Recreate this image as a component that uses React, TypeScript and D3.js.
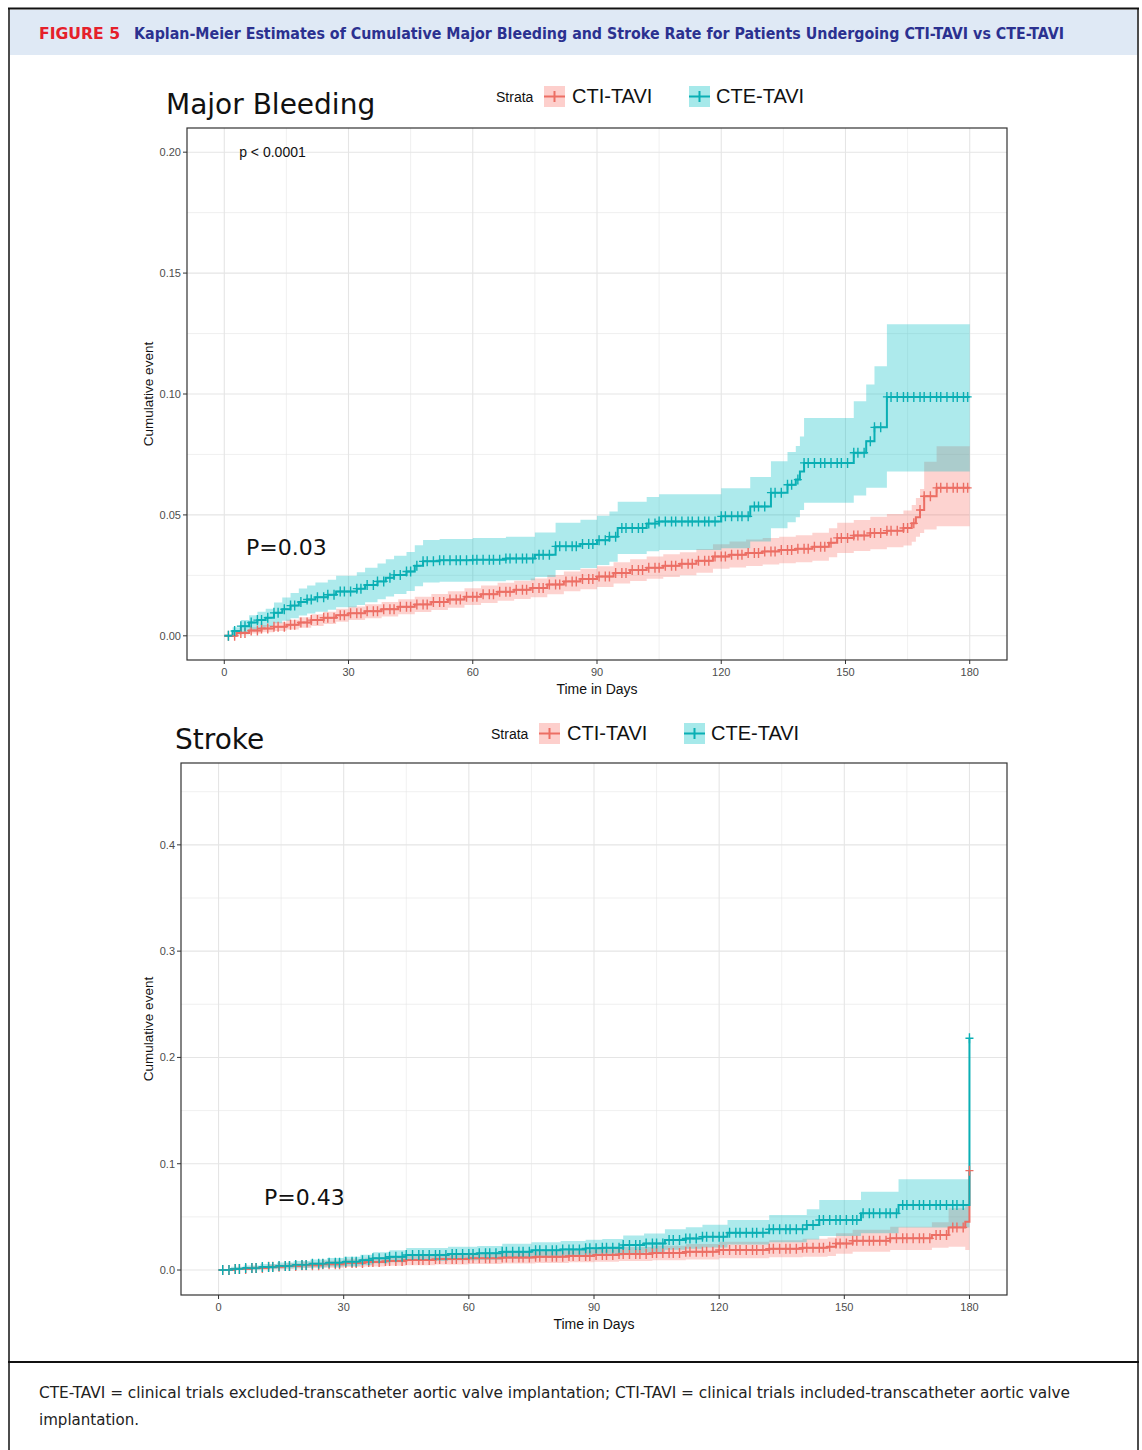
import React from "react";
import * as d3 from "d3";

const RED = "#F8766D";
const TEAL = "#00BFC4";
const RED_LINE = "#ec6e64";
const TEAL_LINE = "#0aafb4";
const AXIS_FONT = "Liberation Sans, Arial, sans-serif";

const strata = ["CTI-TAVI", "CTE-TAVI"];
const xTicks = [0, 30, 60, 90, 120, 150, 180];
const xMinor = [15, 45, 75, 105, 135, 165];

// ---- Major bleeding ----
const bleedTicks = [0, 0.05, 0.1, 0.15, 0.2];
const bleedMinor = [0.025, 0.075, 0.125, 0.175];

const bleedCtiDays = [0, 3, 6, 9, 12, 15, 18, 21, 24, 27, 30, 34, 38, 42, 46, 50, 54, 58, 62, 66, 70, 74, 78, 82, 86, 90, 94, 98, 102, 106, 110, 114, 118, 122, 126, 130, 134, 138, 142, 146, 148, 152, 156, 160, 164, 166, 167, 168, 169, 172];
const bleedCtiEst = [0, 0.0012, 0.0022, 0.003, 0.0038, 0.0046, 0.0055, 0.0065, 0.0075, 0.0085, 0.0093, 0.0102, 0.011, 0.012, 0.013, 0.014, 0.015, 0.0162, 0.0172, 0.0182, 0.019, 0.0198, 0.0212, 0.0225, 0.0235, 0.0245, 0.026, 0.0272, 0.0282, 0.029, 0.0298, 0.031, 0.0328, 0.0335, 0.0342, 0.0349, 0.0355, 0.036, 0.0368, 0.0385, 0.0405, 0.0415, 0.0425, 0.0435, 0.0446, 0.0465, 0.049, 0.052, 0.0577, 0.0612];
const bleedCtiLo = [0, 0.0005, 0.001, 0.0015, 0.002, 0.0026, 0.0033, 0.0041, 0.0049, 0.0058, 0.0065, 0.0073, 0.008, 0.0089, 0.0098, 0.0107, 0.0116, 0.0127, 0.0136, 0.0145, 0.0152, 0.0159, 0.0172, 0.0184, 0.0193, 0.0202, 0.0216, 0.0227, 0.0236, 0.0243, 0.025, 0.0261, 0.0277, 0.0283, 0.0289, 0.0295, 0.03, 0.0304, 0.031, 0.0325, 0.0342, 0.0351, 0.0358, 0.0366, 0.0374, 0.0389, 0.041, 0.0425, 0.044, 0.0453];
const bleedCtiHi = [0, 0.002, 0.0035, 0.0045, 0.0056, 0.0066, 0.0077, 0.0089, 0.01, 0.0112, 0.0121, 0.0131, 0.014, 0.0151, 0.0162, 0.0173, 0.0184, 0.0197, 0.0208, 0.0219, 0.0228, 0.0237, 0.0252, 0.0266, 0.0277, 0.0288, 0.0304, 0.0317, 0.0328, 0.0337, 0.0346, 0.0359, 0.0379, 0.039, 0.0398, 0.0405, 0.041, 0.0416, 0.0426, 0.0445, 0.0468, 0.0479, 0.0492, 0.0504, 0.0518, 0.0541, 0.057, 0.0607, 0.072, 0.0784];

const bleedCteDays = [0, 2, 4, 6, 8, 10, 12, 14, 16, 18, 20, 22, 25, 27, 32, 34, 37, 39, 41, 44, 46, 48, 52, 60, 68, 75, 80, 86, 90, 93, 95, 102, 105, 120, 127, 132, 136, 138, 139, 140, 152, 155, 157, 160];
const bleedCteEst = [0, 0.002, 0.004, 0.0055, 0.0065, 0.0075, 0.0095, 0.011, 0.0125, 0.014, 0.015, 0.016, 0.017, 0.0183, 0.0195, 0.021, 0.0225, 0.024, 0.0252, 0.0266, 0.029, 0.0308, 0.0312, 0.0315, 0.032, 0.0335, 0.037, 0.038, 0.0395, 0.041, 0.0446, 0.0464, 0.0473, 0.0494, 0.0535, 0.0592, 0.0625, 0.0646, 0.068, 0.0715, 0.0757, 0.0805, 0.0862, 0.0988];
const bleedCteLo = [0, 0.0005, 0.0015, 0.0025, 0.003, 0.0038, 0.0052, 0.0062, 0.0073, 0.0084, 0.0092, 0.01, 0.0108, 0.0118, 0.0127, 0.0139, 0.0151, 0.0163, 0.0173, 0.0185, 0.0205, 0.022, 0.0224, 0.0226, 0.023, 0.0243, 0.0272, 0.028, 0.0293, 0.0306, 0.0338, 0.035, 0.0355, 0.0362, 0.039, 0.0445, 0.047, 0.049, 0.052, 0.055, 0.058, 0.0612, 0.0612, 0.068];
const bleedCteHi = [0, 0.0035, 0.0065, 0.0085, 0.01, 0.0112, 0.0138, 0.0158, 0.0177, 0.0196, 0.0208, 0.022, 0.0232, 0.0248, 0.0263, 0.0281, 0.0299, 0.0317, 0.0331, 0.0347, 0.0375, 0.0396, 0.04, 0.0404, 0.041, 0.0427, 0.0468, 0.048, 0.0497, 0.0514, 0.0554, 0.0574, 0.0585, 0.061, 0.0657, 0.0722, 0.076, 0.0785, 0.0824, 0.0901, 0.097, 0.1039, 0.1115, 0.1288];

const bleedCensor = [1, 2.5, 4, 5, 6.5, 8, 9, 10.5, 12, 13, 14.5, 16, 17, 18.5, 20, 21, 22.5, 24, 25, 26.5, 28, 29, 30.5, 32, 33, 34.5, 36, 37, 38.5, 40, 41, 42.5, 44, 45, 46.5, 48, 49, 50.5, 52, 53, 54.5, 56, 57, 58.5, 60, 61, 62.5, 64, 65, 66.5, 68, 69, 70.5, 72, 73, 74.5, 76, 77, 78.5, 80, 81, 82.5, 84, 85, 86.5, 88, 89, 90.5, 92, 93, 94.5, 96, 97, 98.5, 100, 101, 102.5, 104, 105, 106.5, 108, 109, 110.5, 112, 113, 114.5, 116, 117, 118.5, 120, 121, 122.5, 124, 125, 126.5, 128, 129, 130.5, 132, 133, 134.5, 136, 137, 138.5, 140, 141, 142.5, 144, 145, 146.5, 148, 149, 150.5, 152, 153, 154.5, 156, 157, 158.5, 160, 161, 162.5, 164, 165, 166.5, 168, 169, 170.5, 172, 173, 174.5, 176, 177, 178.5, 179.5];

// ---- Stroke ----
const strokeTicks = [0, 0.1, 0.2, 0.3, 0.4];
const strokeMinor = [0.05, 0.15, 0.25, 0.35, 0.45];

const strokeCtiDays = [0, 4, 8, 12, 16, 20, 25, 30, 35, 40, 45, 52, 60, 68, 76, 84, 90, 96, 104, 112, 120, 132, 140, 146, 148, 152, 161, 171, 175, 179, 180];
const strokeCtiEst = [0, 0.001, 0.002, 0.003, 0.0038, 0.0045, 0.0055, 0.0065, 0.0075, 0.0085, 0.0094, 0.0103, 0.011, 0.0118, 0.0125, 0.0133, 0.0141, 0.015, 0.016, 0.0172, 0.0188, 0.02, 0.021, 0.022, 0.025, 0.0275, 0.0298, 0.0329, 0.0401, 0.0455, 0.0935];
const strokeCtiLo = [0, 0, 0.0003, 0.0008, 0.0012, 0.0016, 0.0022, 0.0028, 0.0034, 0.004, 0.0046, 0.0052, 0.0057, 0.0062, 0.0067, 0.0072, 0.0078, 0.0084, 0.0091, 0.0099, 0.0111, 0.0119, 0.0126, 0.0133, 0.0154, 0.0172, 0.0188, 0.0209, 0.022, 0.0188, 0.0188];
const strokeCtiHi = [0, 0.0025, 0.0038, 0.0052, 0.0064, 0.0074, 0.0088, 0.0102, 0.0116, 0.013, 0.0142, 0.0154, 0.0163, 0.0174, 0.0183, 0.0194, 0.0204, 0.0216, 0.0229, 0.0245, 0.0265, 0.0281, 0.0294, 0.0307, 0.0346, 0.0378, 0.0408, 0.0449, 0.058, 0.06, 0.06];

const strokeCteDays = [0, 3, 6, 10, 14, 18, 22, 26, 30, 34, 37, 41, 45, 55, 62, 68, 75, 82, 88, 92, 97, 102, 107, 112, 116, 122, 132, 141, 144, 154, 163, 180];
const strokeCteEst = [0, 0.001, 0.0018, 0.0028, 0.0038, 0.0048, 0.0058, 0.0068, 0.0078, 0.0092, 0.011, 0.0125, 0.0141, 0.015, 0.0157, 0.0172, 0.0185, 0.0194, 0.0204, 0.021, 0.0235, 0.025, 0.0282, 0.0296, 0.0314, 0.0351, 0.0383, 0.0424, 0.047, 0.0533, 0.0612, 0.218];
const strokeCteLo = [0, 0, 0.0003, 0.0009, 0.0015, 0.0021, 0.0027, 0.0033, 0.004, 0.005, 0.0063, 0.0074, 0.0086, 0.0092, 0.0097, 0.0108, 0.0118, 0.0125, 0.0133, 0.0137, 0.0155, 0.0166, 0.019, 0.02, 0.0213, 0.024, 0.0262, 0.0288, 0.032, 0.0345, 0.04, 0.04];
const strokeCteHi = [0, 0.003, 0.0043, 0.0057, 0.0071, 0.0085, 0.0099, 0.0113, 0.0126, 0.0144, 0.0167, 0.0186, 0.0206, 0.0218, 0.0227, 0.0246, 0.0262, 0.0273, 0.0285, 0.0293, 0.0325, 0.0344, 0.0384, 0.0402, 0.0425, 0.047, 0.0518, 0.0571, 0.0659, 0.0737, 0.0854, 0.0854];

const strokeCensor = [1, 2.5, 4, 5, 6.5, 8, 9, 10.5, 12, 13, 14.5, 16, 17, 18.5, 20, 21, 22.5, 24, 25, 26.5, 28, 29, 30.5, 32, 33, 34.5, 36, 37, 38.5, 40, 41, 42.5, 44, 45, 46.5, 48, 49, 50.5, 52, 53, 54.5, 56, 57, 58.5, 60, 61, 62.5, 64, 65, 66.5, 68, 69, 70.5, 72, 73, 74.5, 76, 77, 78.5, 80, 81, 82.5, 84, 85, 86.5, 88, 89, 90.5, 92, 93, 94.5, 96, 97, 98.5, 100, 101, 102.5, 104, 105, 106.5, 108, 109, 110.5, 112, 113, 114.5, 116, 117, 118.5, 120, 121, 122.5, 124, 125, 126.5, 128, 129, 130.5, 132, 133, 134.5, 136, 137, 138.5, 140, 141, 142.5, 144, 145, 146.5, 148, 149, 150.5, 152, 153, 154.5, 156, 157, 158.5, 160, 161, 162.5, 164, 165, 166.5, 168, 169, 170.5, 172, 173, 174.5, 176, 177, 178.5, 180];

type Series = { name: string; fill: string; stroke: string; days: number[]; est: number[]; lo: number[]; hi: number[] };

const stepAt = (days: number[], vals: number[], t: number) => {
  const i = d3.bisectRight(days, t) - 1;
  return vals[Math.max(0, i)];
};

function LegendKey({ x, y, fill, stroke }: { x: number; y: number; fill: string; stroke: string }) {
  return (
    <g>
      <rect x={x} y={y} width={21} height={21} fill={fill} fillOpacity={0.35} />
      <line x1={x} x2={x + 21} y1={y + 10.5} y2={y + 10.5} stroke={stroke} strokeWidth={2} />
      <line x1={x + 10.5} x2={x + 10.5} y1={y + 5} y2={y + 16} stroke={stroke} strokeWidth={2} />
    </g>
  );
}

function KMPanel(props: {
  box: { x0: number; x1: number; y0: number; y1: number };
  yDomain: [number, number];
  yTicks: number[];
  yMinor: number[];
  yFmt: (v: number) => string;
  series: Series[];
  censor: number[];
  title: string;
  titleX: number;
  titleY: number;
  legendX: number;
  legendY: number;
  pLabel: string;
  pX: number;
  pY: number;
  note?: string;
}) {
  const { box, series } = props;
  const x = d3.scaleLinear().domain([-9, 189]).range([box.x0, box.x1]);
  const y = d3.scaleLinear().domain(props.yDomain).range([box.y1, box.y0]);
  const line = d3
    .line<[number, number]>()
    .x((d) => x(d[0]))
    .y((d) => y(d[1]))
    .curve(d3.curveStepAfter);
  const area = d3
    .area<[number, number, number]>()
    .x((d) => x(d[0]))
    .y0((d) => y(d[1]))
    .y1((d) => y(d[2]))
    .curve(d3.curveStepAfter);

  const gridCol = "#e5e5e5";
  const midX = (box.x0 + box.x1) / 2;
  const midY = (box.y0 + box.y1) / 2;
  const lx = props.legendX;
  const ly = props.legendY;

  return (
    <g>
      {/* grid */}
      {xMinor.map((t) => (
        <line key={"xm" + t} x1={x(t)} x2={x(t)} y1={box.y0} y2={box.y1} stroke={gridCol} strokeWidth={0.6} />
      ))}
      {props.yMinor.map((t) => (
        <line key={"ym" + t} x1={box.x0} x2={box.x1} y1={y(t)} y2={y(t)} stroke={gridCol} strokeWidth={0.6} />
      ))}
      {xTicks.map((t) => (
        <line key={"xg" + t} x1={x(t)} x2={x(t)} y1={box.y0} y2={box.y1} stroke={gridCol} strokeWidth={1.1} />
      ))}
      {props.yTicks.map((t) => (
        <line key={"yg" + t} x1={box.x0} x2={box.x1} y1={y(t)} y2={y(t)} stroke={gridCol} strokeWidth={1.1} />
      ))}

      {/* confidence bands */}
      {series.map((s) => {
        const pts: [number, number, number][] = s.days
          .map((d, i) => [d, s.lo[i], s.hi[i]] as [number, number, number])
          .filter((p) => p[0] < 180);
        const last = pts[pts.length - 1];
        pts.push([180, last[1], last[2]]);
        return <path key={"b" + s.name} d={area(pts) || ""} fill={s.fill} fillOpacity={0.32} />;
      })}

      {/* survival steps */}
      {series.map((s) => {
        const pts: [number, number][] = s.days.map((d, i) => [d, s.est[i]] as [number, number]);
        if (pts[pts.length - 1][0] < 180) pts.push([180, pts[pts.length - 1][1]]);
        return <path key={"l" + s.name} d={line(pts) || ""} fill="none" stroke={s.stroke} strokeWidth={2} />;
      })}

      {/* censor marks */}
      {series.map((s) => (
        <g key={"c" + s.name} stroke={s.stroke} strokeWidth={1.4}>
          {props.censor.map((t) => {
            const cx = x(t);
            const cy = y(stepAt(s.days, s.est, t));
            return <path key={t} d={`M${cx - 4},${cy}H${cx + 4}M${cx},${cy - 5}V${cy + 5}`} />;
          })}
        </g>
      ))}

      {/* panel border */}
      <rect x={box.x0} y={box.y0} width={box.x1 - box.x0} height={box.y1 - box.y0} fill="none" stroke="#333" strokeWidth={1.2} />

      {/* axes */}
      {xTicks.map((t) => (
        <g key={"xt" + t}>
          <line x1={x(t)} x2={x(t)} y1={box.y1} y2={box.y1 + 4} stroke="#333" />
          <text x={x(t)} y={box.y1 + 16} textAnchor="middle" fontSize={11} fill="#4d4d4d" fontFamily={AXIS_FONT}>
            {t}
          </text>
        </g>
      ))}
      {props.yTicks.map((t) => (
        <g key={"yt" + t}>
          <line x1={box.x0 - 4} x2={box.x0} y1={y(t)} y2={y(t)} stroke="#333" />
          <text x={box.x0 - 6} y={y(t) + 4} textAnchor="end" fontSize={11} fill="#4d4d4d" fontFamily={AXIS_FONT}>
            {props.yFmt(t)}
          </text>
        </g>
      ))}
      <text x={midX} y={box.y1 + 34} textAnchor="middle" fontSize={14} fill="#111" fontFamily={AXIS_FONT}>
        Time in Days
      </text>
      <text
        transform={`translate(${153},${midY}) rotate(-90)`}
        textAnchor="middle"
        fontSize={13.5}
        fill="#111"
        fontFamily={AXIS_FONT}
      >
        Cumulative event
      </text>

      {/* title & legend */}
      <text x={props.titleX} y={props.titleY} fontSize={28} fill="#111" fontFamily="DejaVu Sans, sans-serif">
        {props.title}
      </text>
      <text x={lx} y={ly + 6} fontSize={14} fill="#111" fontFamily={AXIS_FONT}>
        Strata
      </text>
      <LegendKey x={lx + 48} y={ly - 10} fill={series[0].fill} stroke={series[0].stroke} />
      <text x={lx + 76} y={ly + 7} fontSize={20} fill="#111" fontFamily={AXIS_FONT}>
        {series[0].name}
      </text>
      <LegendKey x={lx + 193} y={ly - 10} fill={series[1].fill} stroke={series[1].stroke} />
      <text x={lx + 220} y={ly + 7} fontSize={20} fill="#111" fontFamily={AXIS_FONT}>
        {series[1].name}
      </text>

      {props.note && (
        <text x={x(3.6)} y={y(props.yTicks[props.yTicks.length - 1]) + 5} fontSize={14} fill="#111" fontFamily={AXIS_FONT}>
          {props.note}
        </text>
      )}
      <text x={props.pX} y={props.pY} fontSize={22} fill="#111" fontFamily="DejaVu Sans, sans-serif">
        {props.pLabel}
      </text>
    </g>
  );
}

export default function App() {
  const bleedSeries: Series[] = [
    { name: strata[0], fill: RED, stroke: RED_LINE, days: bleedCtiDays, est: bleedCtiEst, lo: bleedCtiLo, hi: bleedCtiHi },
    { name: strata[1], fill: TEAL, stroke: TEAL_LINE, days: bleedCteDays, est: bleedCteEst, lo: bleedCteLo, hi: bleedCteHi },
  ];
  const strokeSeries: Series[] = [
    { name: strata[0], fill: RED, stroke: RED_LINE, days: strokeCtiDays, est: strokeCtiEst, lo: strokeCtiLo, hi: strokeCtiHi },
    { name: strata[1], fill: TEAL, stroke: TEAL_LINE, days: strokeCteDays, est: strokeCteEst, lo: strokeCteLo, hi: strokeCteHi },
  ];

  return (
    <svg width={1142} height={1450} style={{ position: "absolute", left: 0, top: 0, background: "#fff" }}>
      {/* frame & header */}
      <rect x={0} y={0} width={1142} height={1450} fill="#fff" />
      <rect x={10} y={10} width={1127} height={45} fill="#dfe9f5" />
      <line x1={8} x2={1139} y1={8.5} y2={8.5} stroke="#111" strokeWidth={2} />
      <line x1={9} x2={9} y1={8} y2={1450} stroke="#111" strokeWidth={1.5} />
      <line x1={1138} x2={1138} y1={8} y2={1450} stroke="#111" strokeWidth={1.5} />
      <line x1={8} x2={1139} y1={1362} y2={1362} stroke="#111" strokeWidth={2} />
      <text
        x={39}
        y={39}
        fontSize={15}
        fontWeight="bold"
        fill="#e5202a"
        fontFamily="DejaVu Sans Condensed, DejaVu Sans, sans-serif"
        textLength={81}
        lengthAdjust="spacingAndGlyphs"
      >
        FIGURE 5
      </text>
      <text
        x={134}
        y={39}
        fontSize={16}
        fontWeight="bold"
        fill="#2b3190"
        fontFamily="DejaVu Sans Condensed, DejaVu Sans, sans-serif"
        textLength={930}
        lengthAdjust="spacingAndGlyphs"
      >
        Kaplan-Meier Estimates of Cumulative Major Bleeding and Stroke Rate for Patients Undergoing CTI-TAVI vs CTE-TAVI
      </text>

      <KMPanel
        box={{ x0: 187, x1: 1007, y0: 128, y1: 660 }}
        yDomain={[-0.01, 0.21]}
        yTicks={bleedTicks}
        yMinor={bleedMinor}
        yFmt={d3.format(".2f")}
        series={bleedSeries}
        censor={bleedCensor}
        title="Major Bleeding"
        titleX={166}
        titleY={114}
        legendX={496}
        legendY={96}
        pLabel="P=0.03"
        pX={246}
        pY={555}
        note="p < 0.0001"
      />
      <KMPanel
        box={{ x0: 181, x1: 1007, y0: 763, y1: 1295 }}
        yDomain={[-0.0235, 0.477]}
        yTicks={strokeTicks}
        yMinor={strokeMinor}
        yFmt={d3.format(".1f")}
        series={strokeSeries}
        censor={strokeCensor}
        title="Stroke"
        titleX={175}
        titleY={749}
        legendX={491}
        legendY={733}
        pLabel="P=0.43"
        pX={264}
        pY={1205}
      />

      {/* footnote */}
      <text
        x={39}
        y={1398}
        fontSize={16}
        fill="#222"
        fontFamily="DejaVu Sans Condensed, DejaVu Sans, sans-serif"
        textLength={1031}
        lengthAdjust="spacingAndGlyphs"
      >
        CTE-TAVI = clinical trials excluded-transcatheter aortic valve implantation; CTI-TAVI = clinical trials included-transcatheter aortic valve
      </text>
      <text
        x={39}
        y={1425}
        fontSize={16}
        fill="#222"
        fontFamily="DejaVu Sans Condensed, DejaVu Sans, sans-serif"
        textLength={100}
        lengthAdjust="spacingAndGlyphs"
      >
        implantation.
      </text>
    </svg>
  );
}
